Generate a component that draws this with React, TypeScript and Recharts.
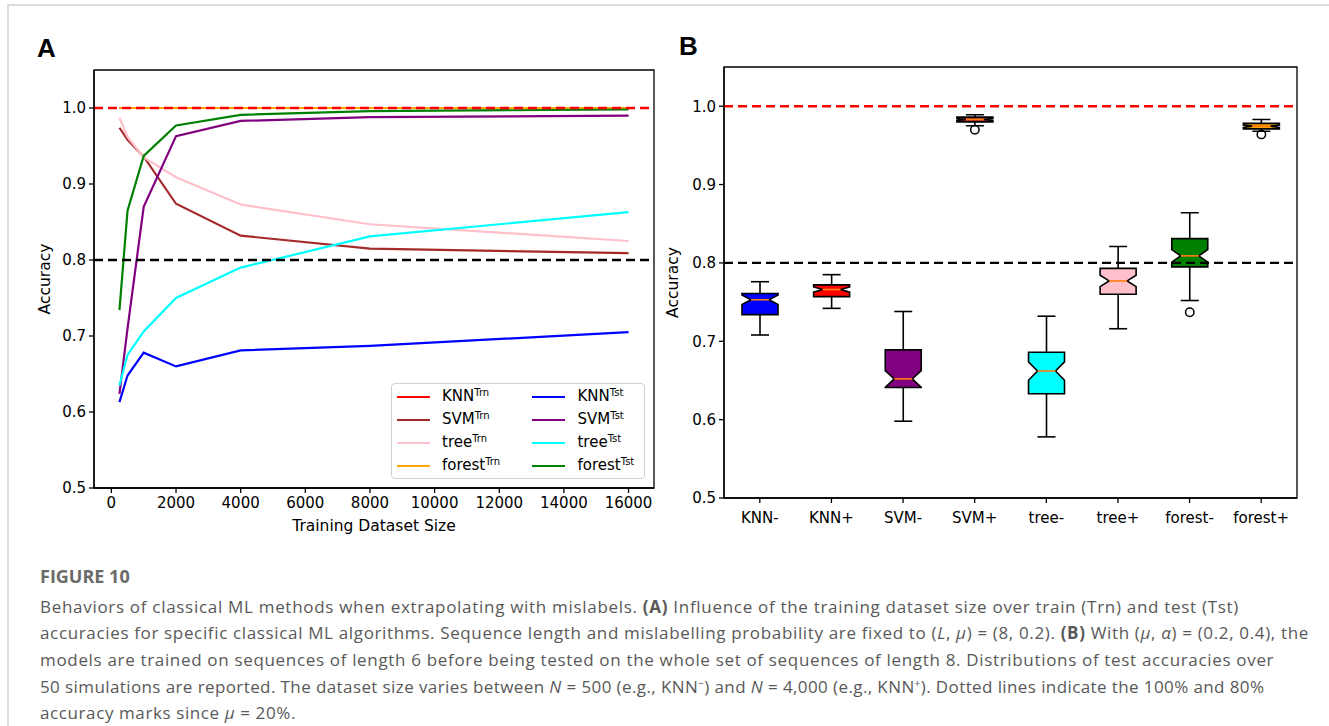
import React from 'react';
import {
  LineChart,
  Line,
  BarChart,
  Bar,
  XAxis,
  YAxis,
  ReferenceLine,
  ReferenceArea,
  Label,
  Legend,
} from 'recharts';

// ---------- Panel A: accuracy vs. training dataset size ----------
const datasetSizes = [250, 500, 1000, 2000, 4000, 8000, 16000];

const knnTrn = [1.0, 1.0, 1.0, 1.0, 1.0, 1.0, 1.0];
const svmTrn = [0.974, 0.958, 0.936, 0.874, 0.832, 0.815, 0.809];
const treeTrn = [0.987, 0.962, 0.935, 0.909, 0.873, 0.847, 0.825];
const forestTrn = [1.0, 1.0, 1.0, 1.0, 1.0, 1.0, 1.0];
const knnTst = [0.613, 0.648, 0.678, 0.66, 0.681, 0.687, 0.705];
const svmTst = [0.624, 0.71, 0.87, 0.963, 0.983, 0.988, 0.99];
const treeTst = [0.635, 0.675, 0.706, 0.75, 0.79, 0.831, 0.863];
const forestTst = [0.734, 0.865, 0.937, 0.977, 0.991, 0.996, 0.998];

const xDomainA: [number, number] = [-537.5, 16787.5];
const xTicksA = [0, 2000, 4000, 6000, 8000, 10000, 12000, 14000, 16000];
const yDomain: [number, number] = [0.5, 1.05];
const yTicks = [0.5, 0.6, 0.7, 0.8, 0.9, 1.0];

type SeriesDef = { key: string; model: string; split: string; color: string; values: number[] };

const trnSeries: SeriesDef[] = [
  { key: 'knnTrn', model: 'KNN', split: 'Trn', color: '#ff0000', values: knnTrn },
  { key: 'svmTrn', model: 'SVM', split: 'Trn', color: '#a52a2a', values: svmTrn },
  { key: 'treeTrn', model: 'tree', split: 'Trn', color: '#ffc0cb', values: treeTrn },
  { key: 'forestTrn', model: 'forest', split: 'Trn', color: '#ffa500', values: forestTrn },
];
const tstSeries: SeriesDef[] = [
  { key: 'knnTst', model: 'KNN', split: 'Tst', color: '#0000ff', values: knnTst },
  { key: 'svmTst', model: 'SVM', split: 'Tst', color: '#800080', values: svmTst },
  { key: 'treeTst', model: 'tree', split: 'Tst', color: '#00ffff', values: treeTst },
  { key: 'forestTst', model: 'forest', split: 'Tst', color: '#008000', values: forestTst },
];
const allSeries = [...trnSeries, ...tstSeries];

const lineData = datasetSizes.map((n, i) => {
  const row: Record<string, number> = { n };
  allSeries.forEach((s) => {
    row[s.key] = s.values[i];
  });
  return row;
});

// ---------- Panel B: distributions of test accuracies ----------
const boxNames = ['KNN-', 'KNN+', 'SVM-', 'SVM+', 'tree-', 'tree+', 'forest-', 'forest+'];
const boxColors = ['#0000ff', '#ff0000', '#800080', '#a52a2a', '#00ffff', '#ffc0cb', '#008000', '#ffa500'];
const whiskerLow = [0.708, 0.742, 0.598, 0.975, 0.578, 0.716, 0.752, 0.968];
const quartile1 = [0.734, 0.757, 0.641, 0.98, 0.633, 0.76, 0.795, 0.971];
const medians = [0.753, 0.766, 0.652, 0.983, 0.662, 0.777, 0.809, 0.9745];
const quartile3 = [0.761, 0.772, 0.689, 0.986, 0.686, 0.793, 0.831, 0.978];
const whiskerHigh = [0.776, 0.785, 0.738, 0.989, 0.732, 0.821, 0.864, 0.983];
const fliers: number[][] = [[], [], [], [0.97], [], [], [0.737], [0.964]];
const SIMULATIONS = 50;

const boxData = boxNames.map((name, i) => {
  const iqr = quartile3[i] - quartile1[i];
  const half = (1.57 * iqr) / Math.sqrt(SIMULATIONS);
  return {
    name,
    color: boxColors[i],
    range: [whiskerLow[i], whiskerHigh[i]],
    low: whiskerLow[i],
    high: whiskerHigh[i],
    q1: quartile1[i],
    med: medians[i],
    q3: quartile3[i],
    notchLo: medians[i] - half,
    notchHi: medians[i] + half,
    fliers: fliers[i],
  };
});

const TICK_FONT = { fontFamily: 'DejaVu Sans', fontSize: 15, fill: '#000' };
const LABEL_FONT = { fontFamily: 'DejaVu Sans', fontSize: 15.5, fill: '#000' };

// Notched box with whiskers, caps, median and outliers; pixel positions are
// derived from the bar geometry Recharts computes for the whisker range.
const NotchedBox = (props: any) => {
  const { x, y, width, height, payload } = props;
  if (payload == null || !isFinite(y) || !isFinite(height)) return null;
  const { low, high } = payload;
  const py = (v: number) => y + ((high - v) / (high - low)) * height;
  const cx = x + width / 2;
  const inner = width / 4;
  const q1 = py(payload.q1);
  const q3 = py(payload.q3);
  const med = py(payload.med);
  const nLo = py(payload.notchLo);
  const nHi = py(payload.notchHi);
  const yLow = py(low);
  const yHigh = py(high);
  const L = x;
  const R = x + width;
  const d = [
    `M${L},${q1}`,
    `L${L},${nLo}`,
    `L${cx - inner},${med}`,
    `L${L},${nHi}`,
    `L${L},${q3}`,
    `L${R},${q3}`,
    `L${R},${nHi}`,
    `L${cx + inner},${med}`,
    `L${R},${nLo}`,
    `L${R},${q1}`,
    'Z',
  ].join(' ');
  return (
    <g>
      <line x1={cx} x2={cx} y1={q1} y2={yLow} stroke="#000" strokeWidth={1.6} />
      <line x1={cx} x2={cx} y1={q3} y2={yHigh} stroke="#000" strokeWidth={1.6} />
      <line x1={cx - inner} x2={cx + inner} y1={yLow} y2={yLow} stroke="#000" strokeWidth={1.6} />
      <line x1={cx - inner} x2={cx + inner} y1={yHigh} y2={yHigh} stroke="#000" strokeWidth={1.6} />
      <path d={d} fill={payload.color} stroke="#000" strokeWidth={1.6} strokeLinejoin="miter" />
      <line x1={cx - inner} x2={cx + inner} y1={med} y2={med} stroke="#ff7f0e" strokeWidth={1.6} />
      {payload.fliers.map((v: number, k: number) => (
        <circle key={k} cx={cx} cy={py(v)} r={4.2} fill="none" stroke="#000" strokeWidth={1.5} />
      ))}
    </g>
  );
};

// Two-column legend: training curves on the left, test curves on the right.
const LegendBox = () => (
  <div
    style={{
      width: 254,
      height: 96,
      border: '1px solid #d0d0d0',
      borderRadius: 4,
      background: 'rgba(255,255,255,0.85)',
      boxSizing: 'border-box',
      display: 'flex',
      fontFamily: 'DejaVu Sans',
      fontSize: 15,
      color: '#000',
      padding: '1px 0 0 5px',
    }}
  >
    {[trnSeries, tstSeries].map((col, ci) => (
      <div key={ci} style={{ width: ci === 0 ? 136 : 112 }}>
        {col.map((s) => (
          <div key={s.key} style={{ height: 23, display: 'flex', alignItems: 'center', lineHeight: '18px' }}>
            <span
              style={{
                display: 'inline-block',
                width: 33,
                height: 0,
                borderTop: `2.5px solid ${s.color}`,
                marginRight: 12,
              }}
            />
            <span style={{ whiteSpace: 'nowrap' }}>
              {s.model}
              <span style={{ fontSize: 10, position: 'relative', top: -5 }}>{s.split}</span>
            </span>
          </div>
        ))}
      </div>
    ))}
  </div>
);

const captionStyle: React.CSSProperties = {
  position: 'absolute',
  left: 40,
  fontFamily: 'Open Sans',
  fontSize: 17,
  color: '#595959',
  whiteSpace: 'nowrap',
  lineHeight: '20px',
};
const supStyle: React.CSSProperties = { fontSize: 10, position: 'relative', top: -6, lineHeight: 0 };

const captionLines: React.ReactNode[] = [
  <>
    Behaviors of classical ML methods when extrapolating with mislabels. <b>(A)</b> Influence of the training dataset size over train
    (Trn) and test (Tst)
  </>,
  <>
    accuracies for specific classical ML algorithms. Sequence length and mislabelling probability are fixed to (<i>L</i>, <i>μ</i>) = (8,
    0.2). <b>(B)</b> With (<i>μ</i>, <i>α</i>) = (0.2, 0.4), the
  </>,
  <>
    models are trained on sequences of length 6 before being tested on the whole set of sequences of length 8. Distributions of test
    accuracies over
  </>,
  <>
    50 simulations are reported. The dataset size varies between <i>N</i> = 500 (e.g., KNN<span style={supStyle}>−</span>) and{' '}
    <i>N</i> = 4,000 (e.g., KNN<span style={supStyle}>+</span>). Dotted lines indicate the 100% and 80%
  </>,
  <>
    accuracy marks since <i>μ</i> = 20%.
  </>,
];
const captionTops = [597, 623, 650, 677, 703];
const captionSpacing = [0.7, 0.65, 0.67, 0.4, 0.6];

export default function App() {
  return (
    <div style={{ position: 'absolute', left: 0, top: 0, width: 1329, height: 726, background: '#fff', overflow: 'hidden' }}>
      {/* card frame */}
      <div
        style={{
          position: 'absolute',
          left: 7,
          top: 4,
          width: 1330,
          height: 730,
          borderTop: '2px solid #dcdcdc',
          borderLeft: '2px solid #dcdcdc',
        }}
      />

      <div style={{ position: 'absolute', left: 37, top: 33, fontFamily: 'Liberation Sans', fontWeight: 700, fontSize: 26 }}>A</div>
      <div style={{ position: 'absolute', left: 679, top: 31, fontFamily: 'Liberation Sans', fontWeight: 700, fontSize: 26 }}>B</div>

      {/* Panel A */}
      <div style={{ position: 'absolute', left: 0, top: 0 }}>
        <LineChart width={700} height={545} data={lineData} margin={{ top: 70, right: 46, bottom: 10, left: 34 }}>
          <XAxis
            dataKey="n"
            type="number"
            domain={xDomainA}
            ticks={xTicksA}
            allowDataOverflow
            interval={0}
            height={47}
            stroke="#000"
            strokeWidth={1.3}
            tickSize={5}
            tickMargin={4}
            tick={TICK_FONT}
          >
            <Label value="Training Dataset Size" position="insideBottom" offset={4} style={LABEL_FONT} />
          </XAxis>
          <YAxis
            type="number"
            domain={yDomain}
            ticks={yTicks}
            allowDataOverflow
            width={60}
            stroke="#000"
            strokeWidth={1.3}
            tickSize={5}
            tickMargin={3}
            tick={TICK_FONT}
            tickFormatter={(v: number) => v.toFixed(1)}
          >
            <Label value="Accuracy" angle={-90} position="insideLeft" offset={10} style={{ ...LABEL_FONT, textAnchor: 'middle' }} />
          </YAxis>
          <ReferenceArea
            x1={xDomainA[0]}
            x2={xDomainA[1]}
            y1={yDomain[0]}
            y2={yDomain[1]}
            fill="none"
            stroke="#000"
            strokeWidth={1.3}
            ifOverflow="visible"
          />
          {allSeries.map((s) => (
            <Line
              key={s.key}
              dataKey={s.key}
              stroke={s.color}
              strokeWidth={2.2}
              dot={false}
              activeDot={false}
              isAnimationActive={false}
              legendType="line"
            />
          ))}
          <ReferenceLine y={1.0} stroke="#ff0000" strokeWidth={2.4} strokeDasharray="9 5" />
          <ReferenceLine y={0.8} stroke="#000" strokeWidth={2.4} strokeDasharray="9 5" />
          <Legend
            layout="vertical"
            align="center"
            verticalAlign="middle"
            content={() => <LegendBox />}
            wrapperStyle={{ left: 391, top: 383, width: 254 }}
          />
        </LineChart>
      </div>

      {/* Panel B */}
      <div style={{ position: 'absolute', left: 660, top: 0 }}>
        <BarChart width={669} height={560} data={boxData} margin={{ top: 67, right: 32, bottom: 22, left: 8 }}>
          <XAxis
            dataKey="name"
            type="category"
            interval={0}
            height={40}
            stroke="#000"
            strokeWidth={1.3}
            tickSize={5}
            tickMargin={9}
            tick={TICK_FONT}
          />
          <YAxis
            type="number"
            domain={yDomain}
            ticks={yTicks}
            allowDataOverflow
            width={56}
            stroke="#000"
            strokeWidth={1.3}
            tickSize={5}
            tickMargin={3}
            tick={TICK_FONT}
            tickFormatter={(v: number) => v.toFixed(1)}
          >
            <Label value="Accuracy" angle={-90} position="insideLeft" offset={4} style={{ ...LABEL_FONT, textAnchor: 'middle' }} />
          </YAxis>
          <ReferenceArea
            x1={boxNames[0]}
            x2={boxNames[boxNames.length - 1]}
            y1={yDomain[0]}
            y2={yDomain[1]}
            fill="none"
            stroke="#000"
            strokeWidth={1.3}
            ifOverflow="visible"
          />
          <Bar dataKey="range" barSize={36} shape={NotchedBox} isAnimationActive={false} />
          <ReferenceLine y={1.0} stroke="#ff0000" strokeWidth={2.4} strokeDasharray="9 5" />
          <ReferenceLine y={0.8} stroke="#000" strokeWidth={2.4} strokeDasharray="9 5" />
        </BarChart>
      </div>

      {/* caption */}
      <div style={{ ...captionStyle, top: 566, fontWeight: 700, fontSize: 18, color: '#6a6a6a' }}>FIGURE 10</div>
      {captionLines.map((c, i) => (
        <div key={i} style={{ ...captionStyle, top: captionTops[i], letterSpacing: captionSpacing[i] }}>
          {c}
        </div>
      ))}
    </div>
  );
}
